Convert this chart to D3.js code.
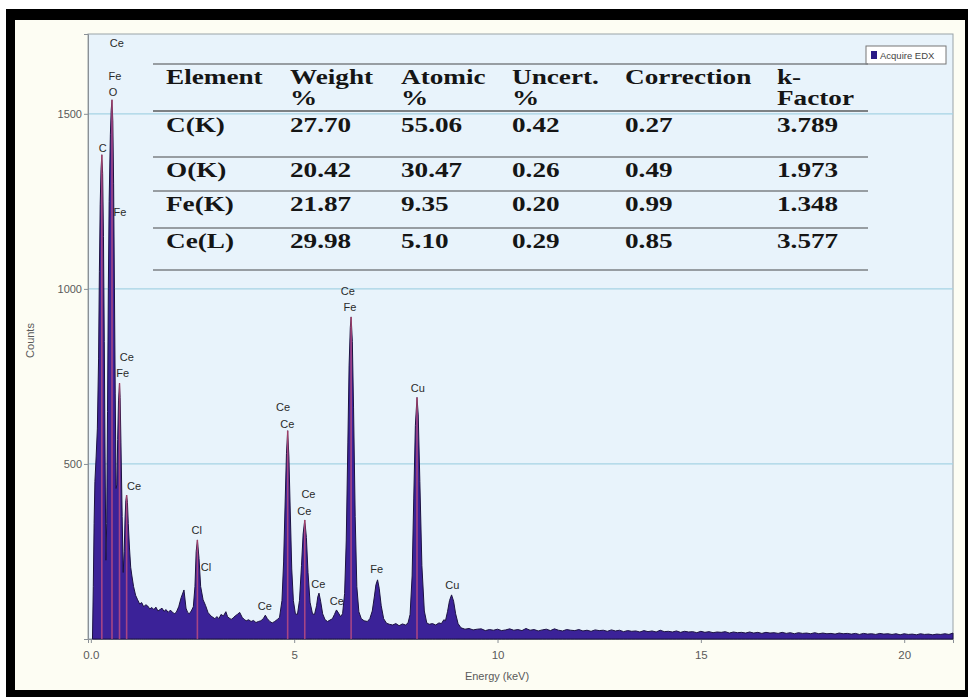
<!DOCTYPE html>
<html>
<head>
<meta charset="utf-8">
<script src="https://cdn.jsdelivr.net/npm/d3@7/dist/d3.min.js"></script>
<style>
  html, body { margin: 0; padding: 0; background: #ffffff; }
  svg { display: block; }
</style>
</head>
<body>
<svg id="chart" width="968" height="697"></svg>
<script>
// EDX spectrum: [energy keV, counts]
const spectrum = [
  [0.04, 0], [0.06, 150], [0.08, 330], [0.10, 450], [0.13, 520], [0.16, 600],
  [0.19, 800], [0.21, 1050], [0.23, 1240], [0.25, 1340], [0.27, 1383], [0.29, 1330],
  [0.31, 1150], [0.33, 850], [0.35, 520], [0.37, 225], [0.39, 330], [0.41, 650],
  [0.43, 1000], [0.45, 1250], [0.48, 1440], [0.50, 1510], [0.52, 1540], [0.54, 1480],
  [0.56, 1300], [0.58, 1000], [0.60, 700], [0.62, 430], [0.64, 440], [0.66, 570],
  [0.68, 680], [0.705, 731], [0.72, 690], [0.74, 560], [0.77, 350], [0.795, 190],
  [0.82, 250], [0.84, 340], [0.86, 395], [0.88, 411], [0.90, 390], [0.92, 330],
  [0.95, 260], [0.98, 205], [1.01, 180], [1.05, 150], [1.10, 125], [1.15, 112],
  [1.20, 100], [1.25, 104], [1.30, 92], [1.35, 98], [1.40, 94], [1.45, 86],
  [1.50, 90], [1.55, 84], [1.60, 91], [1.65, 80], [1.70, 84], [1.75, 88],
  [1.80, 79], [1.85, 84], [1.90, 76], [1.95, 82], [2.00, 78], [2.05, 72],
  [2.10, 76], [2.16, 92], [2.22, 118], [2.29, 140], [2.34, 88], [2.38, 76],
  [2.42, 72], [2.47, 80], [2.52, 92], [2.56, 150], [2.59, 250], [2.62, 283],
  [2.66, 230], [2.70, 150], [2.76, 112], [2.82, 96], [2.88, 76], [2.95, 66],
  [3.00, 62], [3.05, 58], [3.10, 64], [3.15, 58], [3.20, 70], [3.26, 66],
  [3.32, 78], [3.36, 64], [3.40, 60], [3.45, 56], [3.50, 60], [3.55, 66],
  [3.60, 70], [3.66, 76], [3.72, 62], [3.77, 56], [3.82, 52], [3.88, 55],
  [3.94, 50], [4.00, 53], [4.06, 47], [4.12, 50], [4.18, 52], [4.24, 58],
  [4.29, 68], [4.34, 58], [4.40, 50], [4.46, 46], [4.52, 50], [4.58, 55],
  [4.64, 62], [4.70, 110], [4.74, 220], [4.78, 400], [4.81, 530], [4.84, 595],
  [4.87, 520], [4.90, 380], [4.94, 200], [4.98, 110], [5.03, 72], [5.08, 70],
  [5.13, 110], [5.18, 210], [5.22, 300], [5.26, 340], [5.30, 290], [5.34, 190],
  [5.39, 105], [5.45, 72], [5.50, 70], [5.55, 95], [5.58, 120], [5.61, 131],
  [5.65, 108], [5.70, 72], [5.76, 55], [5.82, 50], [5.88, 54], [5.94, 58],
  [5.99, 70], [6.04, 83], [6.09, 74], [6.14, 64], [6.19, 72], [6.24, 130],
  [6.28, 280], [6.32, 560], [6.35, 780], [6.38, 890], [6.40, 920], [6.43, 850],
  [6.46, 660], [6.50, 350], [6.54, 150], [6.59, 78], [6.65, 58], [6.72, 52],
  [6.80, 50], [6.86, 58], [6.92, 80], [6.97, 120], [7.01, 155], [7.05, 169],
  [7.09, 145], [7.14, 95], [7.20, 58], [7.27, 45], [7.34, 42], [7.42, 40],
  [7.50, 44], [7.58, 38], [7.66, 43], [7.74, 40], [7.80, 46], [7.85, 70],
  [7.90, 180], [7.94, 400], [7.98, 610], [8.02, 690], [8.05, 640], [8.09, 450],
  [8.14, 210], [8.20, 80], [8.26, 46], [8.32, 42], [8.40, 44], [8.48, 40],
  [8.56, 46], [8.62, 44], [8.68, 55], [8.72, 52], [8.77, 78], [8.82, 110],
  [8.87, 126], [8.92, 108], [8.97, 72], [9.03, 44], [9.10, 32], [9.20, 28],
  [9.30, 30], [9.40, 26], [9.50, 28], [9.60, 29], [9.70, 24], [9.80, 27],
  [9.90, 25], [10.00, 28], [10.10, 24], [10.20, 26], [10.30, 29], [10.40, 25],
  [10.50, 27], [10.60, 24], [10.70, 30], [10.80, 25], [10.90, 27], [11.00, 23],
  [11.10, 26], [11.20, 28], [11.30, 24], [11.40, 29], [11.50, 25], [11.60, 23],
  [11.70, 27], [11.80, 25], [11.90, 24], [12.00, 27], [12.10, 23], [12.20, 25],
  [12.30, 22], [12.40, 26], [12.50, 24], [12.60, 25], [12.70, 22], [12.80, 26],
  [12.90, 23], [13.00, 25], [13.10, 21], [13.20, 24], [13.30, 22], [13.40, 23],
  [13.50, 20], [13.60, 24], [13.70, 21], [13.80, 23], [13.90, 20], [14.00, 25],
  [14.10, 21], [14.20, 22], [14.30, 20], [14.40, 23], [14.50, 19], [14.60, 22],
  [14.70, 20], [14.80, 21], [14.90, 18], [15.00, 22], [15.10, 19], [15.20, 21],
  [15.30, 18], [15.40, 20], [15.50, 19], [15.60, 21], [15.70, 17], [15.80, 20],
  [15.90, 18], [16.00, 19], [16.10, 17], [16.20, 20], [16.30, 17], [16.40, 19],
  [16.50, 16], [16.60, 19], [16.70, 17], [16.80, 18], [16.90, 16], [17.00, 19],
  [17.10, 16], [17.20, 18], [17.30, 15], [17.40, 18], [17.50, 16], [17.60, 17],
  [17.70, 15], [17.80, 18], [17.90, 15], [18.00, 17], [18.10, 15], [18.20, 16],
  [18.30, 14], [18.40, 17], [18.50, 15], [18.60, 16], [18.70, 14], [18.80, 16],
  [18.90, 13], [19.00, 16], [19.10, 14], [19.20, 15], [19.30, 13], [19.40, 16],
  [19.50, 14], [19.60, 15], [19.70, 13], [19.80, 15], [19.90, 12], [20.00, 15],
  [20.10, 13], [20.20, 14], [20.30, 12], [20.40, 15], [20.50, 13], [20.60, 14],
  [20.70, 12], [20.80, 14], [20.90, 13], [21.00, 15], [21.10, 13], [21.20, 17]
];

// element identification markers: [energy keV, counts]
const markers = [
  [0.27, 1383], [0.52, 1540], [0.705, 731], [0.88, 411], [2.62, 283],
  [4.84, 595], [5.26, 340], [6.40, 920], [8.02, 690]
];

// peak labels
const labelNames  = ["Ce", "Fe", "O", "C", "Fe", "Ce", "Fe", "Ce", "Cl", "Cl", "Ce",
                     "Ce", "Ce", "Ce", "Ce", "Ce", "Ce", "Ce", "Fe", "Fe", "Cu", "Cu"];
const labelEnergy = [0.64, 0.595, 0.546, 0.293, 0.718, 0.883, 0.784, 1.062, 2.604, 2.833, 4.28,
                     4.726, 4.83, 5.35, 5.25, 5.594, 6.046, 6.317, 6.373, 7.03, 8.04, 8.889];
const labelCounts = [1702, 1608, 1563, 1403, 1220, 806, 760, 437, 311, 206, 94,
                     663, 614, 414, 366, 157, 109, 994, 948, 200, 717, 154];

// axis ticks
const yTicks = [500, 1000, 1500];
const xTicks = [0, 5, 10, 15, 20];
const xTickLabels = ["0.0", "5", "10", "15", "20"];

// quantification table
const tableHeader1 = ["Element", "Weight", "Atomic", "Uncert.", "Correction", "k-"];
const tableHeader2 = ["", "%", "%", "%", "", "Factor"];
const tableElements = ["C(K)", "O(K)", "Fe(K)", "Ce(L)"];
const weightPct  = ["27.70", "20.42", "21.87", "29.98"];
const atomicPct  = ["55.06", "30.47", "9.35", "5.10"];
const uncertPct  = ["0.42", "0.26", "0.20", "0.29"];
const correction = ["0.27", "0.49", "0.99", "0.85"];
const kFactor    = ["3.789", "1.973", "1.348", "3.577"];

const svg = d3.select("#chart");

// black frame and cream panel
svg.append("rect").attr("x", 6).attr("y", 9).attr("width", 962).attr("height", 688).attr("fill", "#000");
svg.append("rect").attr("x", 15).attr("y", 20).attr("width", 950).attr("height", 670).attr("fill", "#fdfdf3");

const plot = { left: 88, top: 34, right: 953, bottom: 639 };

const x = d3.scaleLinear().domain([-0.07, 21.2]).range([plot.left, plot.right]);
const y = d3.scaleLinear().domain([0, 1728]).range([plot.bottom, plot.top]);

// plot background
svg.append("rect")
  .attr("x", plot.left).attr("y", plot.top)
  .attr("width", plot.right - plot.left).attr("height", plot.bottom - plot.top)
  .attr("fill", "#e8f3fb").attr("stroke", "#9aa3a8").attr("stroke-width", 1);

// horizontal grid
svg.append("g").selectAll("line").data(yTicks).join("line")
  .attr("x1", plot.left).attr("x2", plot.right)
  .attr("y1", d => y(d)).attr("y2", d => y(d))
  .attr("stroke", "#a6d3e4").attr("stroke-width", 1.2);

// axes
const axisFont = "'Liberation Sans', Arial, sans-serif";
const yAxis = svg.append("g").attr("transform", `translate(${plot.left},0)`)
  .call(d3.axisLeft(y).tickValues(yTicks).tickSize(4).tickPadding(2).tickFormat(d3.format("d")));
const xAxis = svg.append("g").attr("transform", `translate(0,${plot.bottom})`)
  .call(d3.axisBottom(x).tickValues(xTicks).tickSize(4).tickPadding(8)
    .tickFormat((d, i) => xTickLabels[i]));
[yAxis, xAxis].forEach(g => {
  g.select(".domain").attr("stroke", "#8a9096");
  g.selectAll(".tick line").attr("stroke", "#8a9096");
  g.selectAll(".tick text").attr("fill", "#5a5a5a")
    .style("font-family", axisFont).style("font-size", "11px");
});
xAxis.selectAll(".tick text").style("font-size", "11.5px");

// axis titles
svg.append("text")
  .attr("transform", `translate(34,${(plot.top + plot.bottom) / 2 + 4}) rotate(-90)`)
  .attr("text-anchor", "middle").attr("fill", "#5a5a5a")
  .style("font-family", axisFont).style("font-size", "11px").text("Counts");
svg.append("text")
  .attr("x", 497).attr("y", 680).attr("text-anchor", "middle").attr("fill", "#5a5a5a")
  .style("font-family", axisFont).style("font-size", "11px").text("Energy (keV)");

// spectrum
const area = d3.area().x(d => x(d[0])).y0(y(0)).y1(d => y(d[1]));
svg.append("path").datum(spectrum)
  .attr("d", area)
  .attr("fill", "#3b2298")
  .attr("stroke", "#1c1242").attr("stroke-width", 1).attr("stroke-linejoin", "round");

// marker lines
svg.append("g").selectAll("line").data(markers).join("line")
  .attr("x1", d => x(d[0])).attr("x2", d => x(d[0]))
  .attr("y1", y(0)).attr("y2", d => y(d[1]))
  .attr("stroke", "#e0587c").attr("stroke-width", 1.6).attr("opacity", 0.65);

// peak labels
svg.append("g").selectAll("text").data(labelNames).join("text")
  .attr("x", (d, i) => x(labelEnergy[i]))
  .attr("y", (d, i) => y(labelCounts[i]) + 4)
  .attr("text-anchor", "middle")
  .attr("fill", "#2a2a2a")
  .style("font-family", "'Liberation Sans Narrow', 'Liberation Sans', sans-serif")
  .style("font-size", "11px")
  .text(d => d);

// legend
const leg = svg.append("g");
leg.append("rect").attr("x", 866).attr("y", 46).attr("width", 80).attr("height", 18)
  .attr("fill", "#ffffff").attr("stroke", "#777").attr("stroke-width", 1);
leg.append("rect").attr("x", 871).attr("y", 51).attr("width", 6).attr("height", 8).attr("fill", "#2a1a86");
leg.append("text").attr("x", 880).attr("y", 59).attr("fill", "#444")
  .style("font-family", "'Liberation Sans Narrow', 'Liberation Sans', sans-serif")
  .style("font-size", "9.5px").text("Acquire EDX");

// quantification table
const colX = [166, 290, 401, 512, 625, 777];
const rowY = [125, 170, 204, 241];
const ruleY = [64, 111, 157, 191, 228, 270];
const tbl = svg.append("g");
tbl.selectAll("line").data(ruleY).join("line")
  .attr("x1", 153).attr("x2", 868).attr("y1", d => d).attr("y2", d => d)
  .attr("stroke", "#7d8184").attr("stroke-width", (d, i) => i === 1 ? 2.2 : 1.6);

const cellFont = "'Liberation Serif', 'Times New Roman', serif";
function cell(txt, cx, cy) {
  if (!txt) return;
  tbl.append("text")
    .attr("transform", `translate(${cx},${cy + 7}) scale(1.36,1)`)
    .attr("fill", "#151515")
    .style("font-family", cellFont).style("font-weight", "bold").style("font-size", "20px")
    .text(txt);
}
tableHeader1.forEach((t, i) => cell(t, colX[i], 77));
tableHeader2.forEach((t, i) => cell(t, colX[i], 98));
const columns = [tableElements, weightPct, atomicPct, uncertPct, correction, kFactor];
columns.forEach((col, ci) => col.forEach((t, ri) => cell(t, colX[ci], rowY[ri])));
</script>
</body>
</html>
